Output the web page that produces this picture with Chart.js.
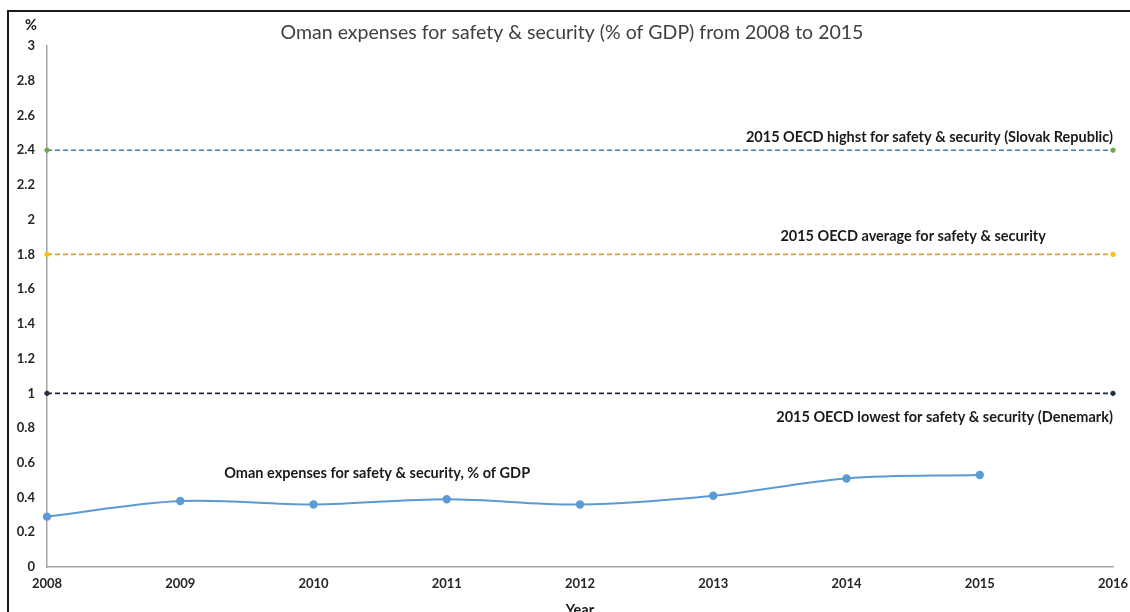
<!DOCTYPE html>
<html>
<head>
<meta charset="utf-8">
<title>Oman expenses for safety & security</title>
<script src="https://cdn.jsdelivr.net/npm/chart.js@4"></script>
<style>
  html, body { margin: 0; padding: 0; background: #ffffff; }
  #wrap { position: relative; width: 1130px; height: 612px; }
</style>
</head>
<body>
<div id="wrap"><canvas id="chart" width="1130" height="612"></canvas></div>
<script>
// Years and Oman's spending on safety & security (% of GDP)
const years = [2008, 2009, 2010, 2011, 2012, 2013, 2014, 2015];
const omanShare = [0.29, 0.38, 0.36, 0.39, 0.36, 0.41, 0.51, 0.53];

// 2015 OECD reference levels (% of GDP), drawn across the whole x range
const refSpan = [2008, 2016];
const oecdHighest = 2.4;
const oecdAverage = 1.8;
const oecdLowest = 1.0;

// Axis settings
const xRange = [2008, 2016];
const yRange = [0, 3];
const yStep = 0.2;

// Text labels
const chartTitle = 'Oman expenses for safety & security (% of GDP) from 2008 to 2015';
const yTitle = '%';
const xTitle = 'Year';
const refLabels = [
  { text: '2015 OECD highst for safety & security (Slovak Republic)', x: 2016, y: 2.4, align: 'right', dy: -13 },
  { text: '2015 OECD average for safety & security', x: 2014.5, y: 1.8, align: 'center', dy: -18 },
  { text: '2015 OECD lowest for safety & security (Denemark)', x: 2016, y: 1.0, align: 'right', dy: 24 },
  { text: 'Oman expenses for safety & security, % of GDP', x: 2009.33, y: 0.53, align: 'left', dy: -2 }
];

const LABEL_FONT = 'bold 14.5px Lato, "Open Sans", sans-serif';
const TICK_FONT = { family: 'Lato, "Open Sans", sans-serif', size: 13, weight: 'bold' };

const refLine = (value, lineColor, dotColor) => ({
  data: refSpan.map(x => ({ x, y: value })),
  borderColor: lineColor,
  borderWidth: 1.6,
  borderDash: [5, 3],
  pointRadius: 2.2,
  pointBackgroundColor: dotColor,
  pointBorderColor: dotColor,
  pointBorderWidth: 1,
  tension: 0,
  clip: false
});

const decorations = {
  id: 'decorations',
  beforeDraw(chart) {
    const ctx = chart.ctx;
    ctx.save();
    ctx.strokeStyle = '#1a1a1a';
    ctx.lineWidth = 2;
    ctx.beginPath();
    ctx.moveTo(8, 612);
    ctx.lineTo(8, 11);
    ctx.lineTo(1130, 11);
    ctx.stroke();
    ctx.restore();
  },
  afterDraw(chart) {
    const ctx = chart.ctx;
    const xs = chart.scales.x, ys = chart.scales.y;
    const area = chart.chartArea;
    ctx.save();
    // title
    ctx.fillStyle = '#404040';
    ctx.font = '19.5px Lato, "Open Sans", sans-serif';
    ctx.textAlign = 'center';
    ctx.textBaseline = 'middle';
    ctx.fillText(chartTitle, 572, 33);
    // axis titles
    ctx.fillStyle = '#1a1a1a';
    ctx.font = LABEL_FONT;
    ctx.fillText(yTitle, 31, 25);
    ctx.textBaseline = 'top';
    ctx.fillText(xTitle, (area.left + area.right) / 2, 603);
    // labels next to the lines
    ctx.textBaseline = 'middle';
    refLabels.forEach(l => {
      ctx.textAlign = l.align;
      ctx.fillText(l.text, xs.getPixelForValue(l.x), ys.getPixelForValue(l.y) + l.dy);
    });
    ctx.restore();
  }
};

new Chart(document.getElementById('chart'), {
  type: 'line',
  data: {
    datasets: [
      refLine(oecdHighest, '#2E86C1', '#6AAE3F'),
      refLine(oecdAverage, '#D4A52A', '#FFC000'),
      refLine(oecdLowest, '#1F2A44', '#1F2A44'),
      {
        data: years.map((x, i) => ({ x, y: omanShare[i] })),
        borderColor: '#5B9BD5',
        borderWidth: 2,
        pointRadius: 3.2,
        pointBackgroundColor: '#5B9BD5',
        pointBorderColor: '#5B9BD5',
        tension: 0.35,
        clip: false
      }
    ]
  },
  options: {
    responsive: false,
    animation: false,
    layout: { padding: { top: 46, right: 17, bottom: 0, left: 0 } },
    plugins: { legend: { display: false }, title: { display: false }, tooltip: { enabled: false } },
    scales: {
      x: {
        type: 'linear',
        min: xRange[0],
        max: xRange[1],
        grid: { display: false, drawTicks: false },
        border: { display: true, color: '#A6A6A6', width: 1.5 },
        ticks: { stepSize: 1, padding: 9, color: '#262626', font: TICK_FONT, callback: v => String(v), maxRotation: 0 },
        afterFit: s => { s.height = 45; s.paddingLeft = 0; s.paddingRight = 0; }
      },
      y: {
        min: yRange[0],
        max: yRange[1],
        grid: { display: false, drawTicks: false },
        border: { display: true, color: '#A6A6A6', width: 1.5 },
        ticks: { stepSize: yStep, padding: 12, color: '#262626', font: TICK_FONT, callback: v => String(Math.round(v * 10) / 10) },
        afterFit: s => { s.width = 47; s.paddingTop = 0; s.paddingBottom = 0; }
      }
    }
  },
  plugins: [decorations]
});
</script>
</body>
</html>
